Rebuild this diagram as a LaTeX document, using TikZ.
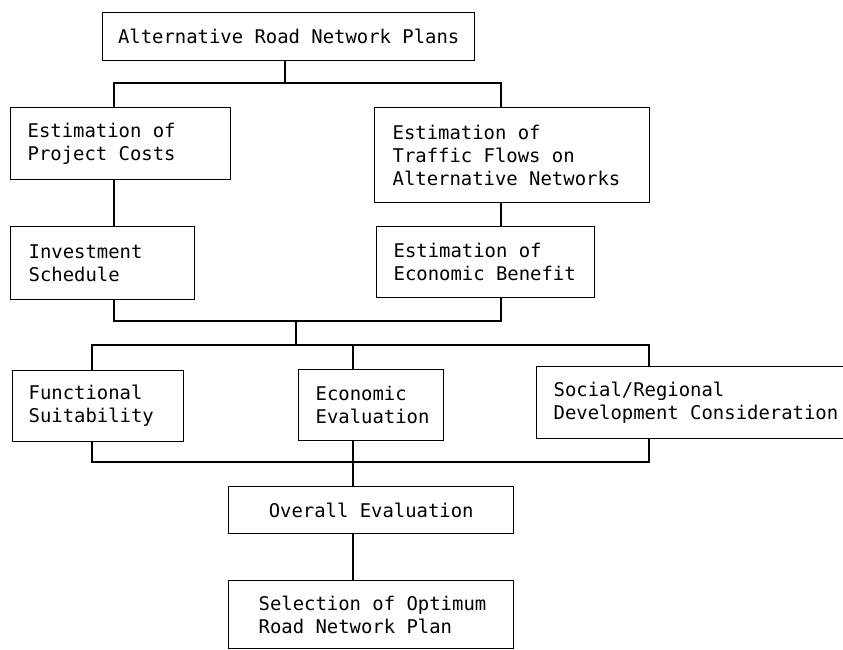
\documentclass[tikz,border=0pt]{standalone}
\usepackage{fontspec}
\newfontfamily\diagfont{DejaVu Sans Mono}
\newcommand\fixsp{\spaceskip=0pt\xspaceskip=0pt\relax}
\begin{document}
\begin{tikzpicture}[x=1pt,y=-1pt,
  box/.style={draw=black, line width=1.4pt, anchor=north west, inner ysep=0pt,
    font={\diagfont\fontsize{18.9}{23}\selectfont}},
  conn/.style={draw=black, line width=1.4pt}]
\useasboundingbox (0,0) rectangle (843,650);
\clip (0,0) rectangle (843,650);
% boxes
\node[box, minimum width=372pt, minimum height=48pt, inner xsep=0pt] (top) at (102,12) {Alternative Road Network Plans};
\node[box, minimum height=72pt, inner xsep=17pt, text width=186pt, align=left] (cost) at (10,107)
  {\fixsp\mbox{Estimation of}\\\mbox{Project Costs}};
\node[box, minimum height=95pt, inner xsep=18pt, text width=239pt, align=left] (traffic) at (374,107)
  {\fixsp\mbox{Estimation of}\\\mbox{Traffic Flows on}\\\mbox{Alternative Networks}};
\node[box, minimum height=73pt, inner xsep=18pt, text width=148pt, align=left] (invest) at (10,226)
  {\fixsp\mbox{Investment}\\\mbox{Schedule}};
\node[box, minimum height=71pt, inner xsep=17pt, text width=184pt, align=left] (benefit) at (376,226)
  {\fixsp\mbox{Estimation of}\\\mbox{Economic Benefit}};
\node[box, minimum height=71pt, inner xsep=16pt, text width=139pt, align=left] (func) at (12,370)
  {\fixsp\mbox{Functional}\\\mbox{Suitability}};
\node[box, minimum height=71pt, inner xsep=17pt, text width=111pt, align=left] (eval) at (298,369)
  {\fixsp\mbox{Economic}\\\mbox{Evaluation}};
\node[box, minimum height=72pt, inner xsep=17pt, text width=292pt, align=left] (social) at (536,366)
  {\fixsp\mbox{Social/Regional}\\\mbox{Development Consideration}};
\node[box, minimum width=285pt, minimum height=47pt, inner xsep=0pt] (overall) at (228,486) {Overall Evaluation};
\node[box, minimum height=68pt, inner xsep=30pt, text width=225pt, align=left] (select) at (228,580)
  {\fixsp\mbox{Selection of Optimum}\\\mbox{Road Network Plan}};
% connector columns and buses
\coordinate (colT) at (285,0);
\coordinate (colA) at (114,0);
\coordinate (colB) at (501,0);
\coordinate (colM) at (296,0);
\coordinate (colC) at (92,0);
\coordinate (colD) at (353,0);
\coordinate (colE) at (649,0);
\coordinate (bus1) at (0,83);
\coordinate (bus2) at (0,321);
\coordinate (bus3) at (0,345);
\coordinate (bus4) at (0,462);
% connectors
\draw[conn] (top.south -| colT) -- (colT |- bus1);
\draw[conn] (cost.north -| colA) -- (colA |- bus1) -- (colB |- bus1) -- (traffic.north -| colB);
\draw[conn] (cost.south -| colA) -- (invest.north -| colA);
\draw[conn] (traffic.south -| colB) -- (benefit.north -| colB);
\draw[conn] (invest.south -| colA) -- (colA |- bus2) -- (colB |- bus2) -- (benefit.south -| colB);
\draw[conn] (colM |- bus2) -- (colM |- bus3);
\draw[conn] (func.north -| colC) -- (colC |- bus3) -- (colE |- bus3) -- (social.north -| colE);
\draw[conn] (colD |- bus3) -- (eval.north -| colD);
\draw[conn] (func.south -| colC) -- (colC |- bus4) -- (colE |- bus4) -- (social.south -| colE);
\draw[conn] (eval.south -| colD) -- (overall.north -| colD);
\draw[conn] (overall.south -| colD) -- (select.north -| colD);
\end{tikzpicture}
\end{document}
